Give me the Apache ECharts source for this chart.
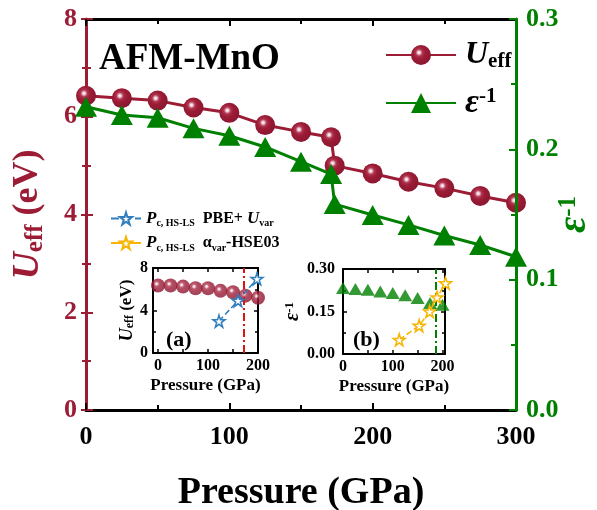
<!DOCTYPE html>
<html><head><meta charset="utf-8">
<script src="https://cdn.jsdelivr.net/npm/echarts@6/dist/echarts.min.js"></script>
<style>html,body{margin:0;padding:0;background:#fff}#c{width:597px;height:510px}</style>
</head><body><div id="c"></div>
<script>
// ---- main panel data ----
const pressure = [0, 25, 50, 75, 100, 125, 150, 171, 173.5, 200, 225, 250, 275, 300];
const uEff = [6.43, 6.38, 6.33, 6.19, 6.08, 5.83, 5.69, 5.58, 5.00, 4.84, 4.67, 4.54, 4.38, 4.24];
const epsInv = [0.2327, 0.2263, 0.2242, 0.2161, 0.2104, 0.2018, 0.1905, 0.181, 0.158, 0.1496, 0.142, 0.1339, 0.1266, 0.1176];
const mainXLabels = [0, 100, 200, 300];
// ---- inset data ----
const insetPressure = [0, 25, 50, 75, 100, 125, 150, 175, 200];
const insetUeff = [6.35, 6.35, 6.25, 6.1, 6.1, 5.85, 5.72, 5.4, 5.2];
const insetEps = [0.233, 0.229, 0.227, 0.221, 0.215, 0.207, 0.198, 0.18, 0.174];
const pbePressure = [122, 160, 198];
const pbeU = [3.0, 4.93, 6.98];
const hsePressure = [113, 153, 174, 189, 206];
const hseEps = [0.05, 0.10, 0.15, 0.20, 0.25];
const pcPBE = 172;
const pcHSE = 186;
const insetXLabels = [0, 100, 200];
const insetXTicks = [0, 50, 100, 150, 200];

const F = "'Liberation Serif','Times New Roman',serif";
const RED = '#9C1C35', GREEN = '#008000', BLUE = '#2F7EBE', ORANGE = '#F7B500';
const STAR = 'path://M50,0 L61.2,34.5 L97.6,34.5 L68.2,55.9 L79.4,90.5 L50,69.1 L20.6,90.5 L31.8,55.9 L2.4,34.5 L38.8,34.5 Z';
const ball = {type: 'radial', x: 0.4, y: 0.38, r: 0.62, colorStops: [
  {offset: 0, color: '#ffffff'}, {offset: 0.1, color: '#f3d3db'}, {offset: 0.28, color: '#b03552'},
  {offset: 0.5, color: '#9C1C35'}, {offset: 1, color: '#8c1631'}]};
const zip = (a, b) => a.map((v, i) => [v, b[i]]);
const t = (o) => Object.assign({fontFamily: F, fontWeight: 'bold'}, o);

function boxX(gi, pos, min, max, labels, ticks, showLabel, name) {
  return {
    gridIndex: gi, type: 'value', position: pos, min: min, max: max,
    axisLine: {show: true, onZero: false, lineStyle: {color: '#000', width: 2}},
    axisTick: {show: true, inside: true, length: 4, customValues: ticks, lineStyle: {color: '#000', width: 1.5}},
    axisLabel: {show: showLabel, customValues: labels, margin: 5, color: '#000', fontFamily: F, fontWeight: 'bold', fontSize: 16},
    splitLine: {show: false},
    name: name || '', nameLocation: 'middle', nameGap: 24,
    nameTextStyle: t({fontSize: 17, color: '#000'})
  };
}

const option = {
  animation: false,
  backgroundColor: '#fff',
  grid: [
    {left: 86, top: 19, width: 430, height: 391, containLabel: false, outerBoundsMode: 'none'},
    {left: 153, top: 268, width: 105, height: 85, containLabel: false, outerBoundsMode: 'none'},
    {left: 343, top: 269, width: 102, height: 85, containLabel: false, outerBoundsMode: 'none'}
  ],
  xAxis: [
    {gridIndex: 0, type: 'value', position: 'bottom', min: 0, max: 300, interval: 100,
     axisLine: {onZero: false, lineStyle: {color: '#000', width: 3}},
     axisTick: {inside: true, length: 7, lineStyle: {color: '#000', width: 2}},
     minorTick: {show: true, splitNumber: 2, length: 5, lineStyle: {color: '#000', width: 2}},
     axisLabel: {margin: 14, color: '#000', fontFamily: F, fontWeight: 'bold', fontSize: 26},
     splitLine: {show: false},
     name: 'Pressure (GPa)', nameLocation: 'middle', nameGap: 64,
     nameTextStyle: t({fontSize: 38, color: '#000'})},
    {gridIndex: 0, type: 'value', position: 'top', min: 0, max: 300, interval: 100,
     axisLine: {onZero: false, lineStyle: {color: '#000', width: 3}},
     axisTick: {inside: true, length: 7, lineStyle: {color: '#000', width: 2}},
     minorTick: {show: true, splitNumber: 2, length: 5, lineStyle: {color: '#000', width: 2}},
     axisLabel: {show: false}, splitLine: {show: false}},
    boxX(1, 'bottom', -10, 200, insetXLabels, insetXTicks, true, 'Pressure (GPa)'),
    boxX(1, 'top', -10, 200, insetXLabels, insetXTicks, false),
    boxX(2, 'bottom', 0, 205, insetXLabels, insetXTicks, true, 'Pressure (GPa)'),
    boxX(2, 'top', 0, 205, insetXLabels, insetXTicks, false)
  ],
  yAxis: [
    {gridIndex: 0, type: 'value', position: 'left', min: 0, max: 8, interval: 2,
     axisLine: {show: true, onZero: false, lineStyle: {color: RED, width: 3}},
     axisTick: {show: true, inside: true, length: 7, lineStyle: {color: RED, width: 2}},
     minorTick: {show: true, splitNumber: 2, length: 5, lineStyle: {color: RED, width: 2}},
     axisLabel: {margin: 9, color: RED, fontFamily: F, fontWeight: 'bold', fontSize: 26},
     splitLine: {show: false},
     name: '{u|U}{s|eff}{n| (eV)}', nameLocation: 'middle', nameGap: 38, nameRotate: 90,
     nameTextStyle: t({color: RED, fontSize: 36, rich: {
       u: t({color: RED, fontSize: 38, fontStyle: 'italic', lineHeight: 40}),
       s: t({color: RED, fontSize: 25, lineHeight: 18, verticalAlign: 'bottom'}),
       n: t({color: RED, fontSize: 36, lineHeight: 40})}})},
    {gridIndex: 0, type: 'value', position: 'right', min: 0, max: 0.3, interval: 0.1, z: 5,
     axisLine: {show: true, onZero: false, lineStyle: {color: GREEN, width: 3}},
     axisTick: {show: true, inside: true, length: 7, lineStyle: {color: GREEN, width: 2}},
     minorTick: {show: true, splitNumber: 2, length: 5, lineStyle: {color: GREEN, width: 2}},
     axisLabel: {margin: 10, color: GREEN, fontFamily: F, fontWeight: 'bold', fontSize: 26,
                 formatter: v => v.toFixed(1)},
     splitLine: {show: false},
     name: '{e|ε}{p|-1}', nameLocation: 'middle', nameGap: 40, nameRotate: 90, nameMoveOverlap: false,
     nameTextStyle: t({color: GREEN, fontSize: 36, rich: {
       e: t({color: GREEN, fontSize: 40, fontStyle: 'italic', lineHeight: 38}),
       p: t({color: GREEN, fontSize: 25, lineHeight: 18, verticalAlign: 'top'})}})},
    {gridIndex: 0, type: 'value', position: 'right', min: 0, max: 8, interval: 2,
     axisLine: {show: false},
     axisTick: {show: true, inside: true, length: 5, lineStyle: {color: RED, width: 2}},
     minorTick: {show: true, splitNumber: 2, length: 4, lineStyle: {color: RED, width: 2}},
     axisLabel: {show: false}, splitLine: {show: false}},
    {gridIndex: 1, type: 'value', position: 'left', min: 0, max: 8, interval: 4,
     axisLine: {show: true, onZero: false, lineStyle: {color: '#000', width: 2}},
     axisTick: {show: true, inside: true, length: 4, lineStyle: {color: '#000', width: 1.5}},
     minorTick: {show: true, splitNumber: 2, length: 3, lineStyle: {color: '#000', width: 1.5}},
     axisLabel: {margin: 5, color: '#000', fontFamily: F, fontWeight: 'bold', fontSize: 16},
     splitLine: {show: false},
     name: '{u|U}{s|eff}{n| (eV)}', nameLocation: 'middle', nameGap: 16, nameRotate: 90,
     nameTextStyle: t({color: '#000', fontSize: 17, rich: {
       u: t({color: '#000', fontSize: 18, fontStyle: 'italic', lineHeight: 18}),
       s: t({color: '#000', fontSize: 12, lineHeight: 8, verticalAlign: 'bottom'}),
       n: t({color: '#000', fontSize: 17, lineHeight: 18})}})},
    {gridIndex: 1, type: 'value', position: 'right', min: 0, max: 8, interval: 4,
     axisLine: {show: true, onZero: false, lineStyle: {color: '#000', width: 2}},
     axisTick: {show: true, inside: true, length: 4, lineStyle: {color: '#000', width: 1.5}},
     minorTick: {show: true, splitNumber: 2, length: 3, lineStyle: {color: '#000', width: 1.5}},
     axisLabel: {show: false}, splitLine: {show: false}},
    {gridIndex: 2, type: 'value', position: 'left', min: 0, max: 0.3, interval: 0.15,
     axisLine: {show: true, onZero: false, lineStyle: {color: '#000', width: 2}},
     axisTick: {show: true, inside: true, length: 4, lineStyle: {color: '#000', width: 1.5}},
     minorTick: {show: true, splitNumber: 2, length: 3, lineStyle: {color: '#000', width: 1.5}},
     axisLabel: {margin: 8, color: '#000', fontFamily: F, fontWeight: 'bold', fontSize: 16,
                 formatter: v => v.toFixed(2)},
     splitLine: {show: false},
     name: '{e|ε}{p|-1}', nameLocation: 'middle', nameGap: 30, nameRotate: 90,
     nameTextStyle: t({color: '#000', fontSize: 18, rich: {
       e: t({color: '#000', fontSize: 20, fontStyle: 'italic', lineHeight: 20}),
       p: t({color: '#000', fontSize: 13, lineHeight: 10, verticalAlign: 'top'})}})},
    {gridIndex: 2, type: 'value', position: 'right', min: 0, max: 0.3, interval: 0.15,
     axisLine: {show: true, onZero: false, lineStyle: {color: '#000', width: 2}},
     axisTick: {show: true, inside: true, length: 4, lineStyle: {color: '#000', width: 1.5}},
     minorTick: {show: true, splitNumber: 2, length: 3, lineStyle: {color: '#000', width: 1.5}},
     axisLabel: {show: false}, splitLine: {show: false}}
  ],
  legend: [
    {show: true, selectedMode: false, left: 380, top: 34, itemWidth: 70, itemHeight: 25, data: ['Ueff'],
     formatter: () => '{u|U}{s|eff}',
     textStyle: t({color: '#000', fontSize: 30, padding: [0, 0, 0, 4], rich: {
       u: t({color: '#000', fontSize: 32, fontStyle: 'italic', lineHeight: 34}),
       s: t({color: '#000', fontSize: 21, lineHeight: 18, verticalAlign: 'bottom'})}})},
    {show: true, selectedMode: false, left: 380, top: 81, itemWidth: 70, itemHeight: 25, data: ['eps'],
     formatter: () => '{e|ε}{p|-1}',
     textStyle: t({color: '#000', fontSize: 30, padding: [0, 0, 0, 4], rich: {
       e: t({color: '#000', fontSize: 34, fontStyle: 'italic', lineHeight: 34}),
       p: t({color: '#000', fontSize: 21, lineHeight: 18, verticalAlign: 'top'})}})},
    {show: true, selectedMode: false, orient: 'vertical', left: 105, top: 205, itemWidth: 30, itemHeight: 15, itemGap: 6,
     data: [{name: 'pbe'}, {name: 'hse', lineStyle: {type: 'solid'}}],
     formatter: n => n === 'pbe' ? '{p|P}{s|c, HS-LS}{n|  PBE+ }{p|U}{s|var}' : '{p|P}{s|c, HS-LS}{n|  α}{s|var}{n|-HSE03}',
     textStyle: t({color: '#000', fontSize: 16, rich: {
       p: t({color: '#000', fontSize: 17, fontStyle: 'italic', lineHeight: 20}),
       s: t({color: '#000', fontSize: 10, lineHeight: 8, verticalAlign: 'bottom'}),
       n: t({color: '#000', fontSize: 16, lineHeight: 20})}})}
  ],
  graphic: [
    {type: 'text', left: 99, top: 41, style: {text: 'AFM-MnO', fontFamily: F, fontWeight: 'bold', fontSize: 37, fill: '#000'}},
    {type: 'text', left: 166, top: 329, style: {text: '(a)', fontFamily: F, fontWeight: 'bold', fontSize: 22, fill: '#000'}},
    {type: 'text', left: 353, top: 329, style: {text: '(b)', fontFamily: F, fontWeight: 'bold', fontSize: 22, fill: '#000'}}
  ],
  series: [
    {name: 'Ueff', type: 'line', xAxisIndex: 0, yAxisIndex: 0, data: zip(pressure, uEff), clip: false, z: 3,
     symbol: 'circle', symbolSize: 20, lineStyle: {color: RED, width: 3}, itemStyle: {color: ball}},
    {name: 'eps', type: 'line', xAxisIndex: 0, yAxisIndex: 1, data: zip(pressure, epsInv), clip: false, z: 4,
     symbol: 'triangle', symbolSize: [22, 20], lineStyle: {color: GREEN, width: 3}, itemStyle: {color: GREEN}},
    {name: 'insetU', type: 'scatter', xAxisIndex: 2, yAxisIndex: 3, data: zip(insetPressure, insetUeff), clip: false,
     symbol: 'circle', symbolSize: 14, itemStyle: {color: ball},
     markLine: {silent: true, symbol: 'none', label: {show: false},
                lineStyle: {color: '#E01010', type: [8, 3, 2, 3], width: 2}, data: [{xAxis: pcPBE}]}},
    {name: 'pbe', type: 'line', xAxisIndex: 2, yAxisIndex: 3, data: zip(pbePressure, pbeU), clip: false, z: 5,
     symbol: STAR, symbolSize: 12, lineStyle: {color: BLUE, width: 1.5, type: 'dashed'},
     itemStyle: {color: '#fff', borderColor: BLUE, borderWidth: 1.5}},
    {name: 'insetEps', type: 'scatter', xAxisIndex: 4, yAxisIndex: 5, data: zip(insetPressure, insetEps), clip: false,
     symbol: 'triangle', symbolSize: [14, 12], itemStyle: {color: GREEN},
     markLine: {silent: true, symbol: 'none', label: {show: false},
                lineStyle: {color: GREEN, type: [8, 3, 2, 3], width: 2}, data: [{xAxis: pcHSE}]}},
    {name: 'hse', type: 'line', xAxisIndex: 4, yAxisIndex: 5, data: zip(hsePressure, hseEps), clip: false, z: 5,
     symbol: STAR, symbolSize: 12, lineStyle: {color: ORANGE, width: 1.5, type: 'dashed'},
     itemStyle: {color: '#fff', borderColor: ORANGE, borderWidth: 1.5}}
  ]
};
const chart = echarts.init(document.getElementById('c'), null, {renderer: 'canvas'});
chart.setOption(option);
</script></body></html>
